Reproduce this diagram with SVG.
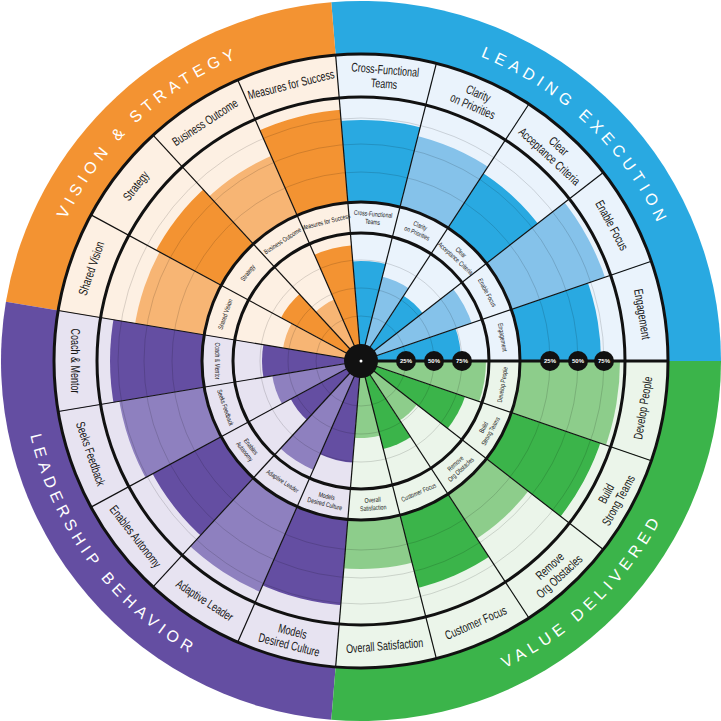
<svg xmlns="http://www.w3.org/2000/svg" width="721" height="721" viewBox="0 0 721 721">
<style>
.lb{fill:#eaf3fc}.db{fill:#29a9e1}.mb{fill:#85c2ea}
.lo{fill:#fdf0e3}.do{fill:#f39332}.mo{fill:#f7b574}
.lp{fill:#e7e3f1}.dp{fill:#644ea2}.mp{fill:#8e80bf}
.lg{fill:#ebf5ea}.dg{fill:#3bb44a}.mg{fill:#8dcd8b}
text{font-family:"Liberation Sans",Arial,sans-serif;text-anchor:middle;dominant-baseline:central;fill:#151515}
.t{font-size:12.5px}
.s{font-size:6.8px}
.ti{font-size:16px;fill:#fff;letter-spacing:5px;dominant-baseline:auto}
.grid{fill:none;stroke:#000;stroke-opacity:.18;stroke-width:.8}
.ring{fill:none;stroke:#111;stroke-width:3}
.rad{stroke:#111;stroke-width:1.2}
.pm{fill:#111}
.pt{font-size:6px;font-weight:bold;fill:#fff}
</style>
<defs>
<clipPath id="w"><polygon points="0,0 330,-55 330,55"/></clipPath>
<path id="p1" d="M60.0,488.8 A327,327 0 0 1 509.5,69.6"/>
<path id="p2" d="M215.6,68.1 A327,327 0 0 1 660.6,491.9"/>
<path id="p3" d="M78.3,173.9 A339,339 0 0 0 457.3,686.0"/>
<path id="p4" d="M211.3,665.2 A339,339 0 0 0 671.2,224.2"/>
</defs>
<g id="quadrants">
<path d="M361,361 L721,361 A360,360 0 0 0 331.27,2.23 Z" fill="#29a9e1"/>
<path d="M361,361 L331.27,2.23 A360,360 0 0 0 5.91,301.75 Z" fill="#f39332"/>
<path d="M361,361 L5.91,301.75 A360,360 0 0 0 331.27,719.77 Z" fill="#644ea2"/>
<path d="M361,361 L331.27,719.77 A360,360 0 0 0 721,361 Z" fill="#3bb44a"/>
</g>
<g id="titles">
<text class="ti"><textPath href="#p1" startOffset="50%">VISION &amp; STRATEGY</textPath></text>
<text class="ti"><textPath href="#p2" startOffset="50%">LEADING EXECUTION</textPath></text>
<text class="ti"><textPath href="#p3" startOffset="50%">LEADERSHIP BEHAVIOR</textPath></text>
<text class="ti"><textPath href="#p4" startOffset="50%">VALUE DELIVERED</textPath></text>
</g>

<g id="engagement" transform="translate(361,361) rotate(-9.47)">
<g clip-path="url(#w)"><circle r="307" class="lb"/><circle r="240" class="db"/><circle r="159" class="lb"/><circle r="100" class="db"/></g>
<g transform="translate(285.5,0) rotate(90)"><text class="t" transform="scale(0.72,1)">Engagement</text></g>
<g transform="translate(143.5,0) rotate(90)"><text class="s" transform="scale(0.75,1)">Engagement</text></g>
</g>
<g id="enable-focus" transform="translate(361,361) rotate(-28.42)">
<g clip-path="url(#w)"><circle r="307" class="lb"/><circle r="258" class="mb"/><circle r="159" class="lb"/><circle r="117" class="mb"/></g>
<g transform="translate(285.5,0) rotate(90)"><text class="t" transform="scale(0.72,1)">Enable Focus</text></g>
<g transform="translate(143.5,0) rotate(90)"><text class="s" transform="scale(0.75,1)">Enable Focus</text></g>
</g>
<g id="clear-acceptance" transform="translate(361,361) rotate(-47.37)">
<g clip-path="url(#w)"><circle r="307" class="lb"/><circle r="224" class="db"/><circle r="159" class="lb"/><circle r="78" class="db"/></g>
<g transform="translate(285.5,0) rotate(90)"><text class="t" transform="scale(0.72,1)"><tspan x="0" y="-7">Clear</tspan><tspan x="0" y="7">Acceptance Criteria</tspan></text></g>
<g transform="translate(143.5,0) rotate(90)"><text class="s" transform="scale(0.75,1)"><tspan x="0" y="-4">Clear</tspan><tspan x="0" y="4">Acceptance Criteria</tspan></text></g>
</g>
<g id="clarity" transform="translate(361,361) rotate(-66.32)">
<g clip-path="url(#w)"><circle r="307" class="lb"/><circle r="232" class="mb"/><circle r="159" class="lb"/><circle r="87" class="mb"/></g>
<g transform="translate(285.5,0) rotate(90)"><text class="t" transform="scale(0.72,1)"><tspan x="0" y="-7">Clarity</tspan><tspan x="0" y="7">on Priorities</tspan></text></g>
<g transform="translate(143.5,0) rotate(90)"><text class="s" transform="scale(0.75,1)"><tspan x="0" y="-4">Clarity</tspan><tspan x="0" y="4">on Priorities</tspan></text></g>
</g>
<g id="cross-functional" transform="translate(361,361) rotate(-85.26)">
<g clip-path="url(#w)"><circle r="307" class="lb"/><circle r="241" class="db"/><circle r="159" class="lb"/><circle r="100" class="db"/></g>
<g transform="translate(285.5,0) rotate(90)"><text class="t" transform="scale(0.72,1)"><tspan x="0" y="-7">Cross-Functional</tspan><tspan x="0" y="7">Teams</tspan></text></g>
<g transform="translate(143.5,0) rotate(90)"><text class="s" transform="scale(0.75,1)"><tspan x="0" y="-4">Cross-Functional</tspan><tspan x="0" y="4">Teams</tspan></text></g>
</g>
<g id="measures" transform="translate(361,361) rotate(-104.21)">
<g clip-path="url(#w)"><circle r="307" class="lo"/><circle r="252" class="do"/><circle r="159" class="lo"/><circle r="116" class="do"/></g>
<g transform="translate(285.5,0) rotate(90)"><text class="t" transform="scale(0.72,1)">Measures for Success</text></g>
<g transform="translate(143.5,0) rotate(90)"><text class="s" transform="scale(0.75,1)">Measures for Success</text></g>
</g>
<g id="business-outcome" transform="translate(361,361) rotate(-123.16)">
<g clip-path="url(#w)"><circle r="307" class="lo"/><circle r="224" class="mo"/><circle r="159" class="lo"/><circle r="67" class="mo"/></g>
<g transform="translate(285.5,0) rotate(90)"><text class="t" transform="scale(0.72,1)">Business Outcome</text></g>
<g transform="translate(143.5,0) rotate(90)"><text class="s" transform="scale(0.75,1)">Business Outcome</text></g>
</g>
<g id="strategy" transform="translate(361,361) rotate(-142.11)">
<g clip-path="url(#w)"><circle r="307" class="lo"/><circle r="233" class="do"/><circle r="159" class="lo"/><circle r="91" class="do"/></g>
<g transform="translate(285.5,0) rotate(90)"><text class="t" transform="scale(0.72,1)">Strategy</text></g>
<g transform="translate(143.5,0) rotate(90)"><text class="s" transform="scale(0.75,1)">Strategy</text></g>
</g>
<g id="shared-vision" transform="translate(361,361) rotate(-161.05)">
<g clip-path="url(#w)"><circle r="307" class="lo"/><circle r="229" class="mo"/><circle r="159" class="lo"/><circle r="79" class="mo"/></g>
<g transform="translate(285.5,0) rotate(90)"><text class="t" transform="scale(0.72,1)">Shared Vision</text></g>
<g transform="translate(143.5,0) rotate(90)"><text class="s" transform="scale(0.75,1)">Shared Vision</text></g>
</g>
<g id="coach-mentor" transform="translate(361,361) rotate(-180)">
<g clip-path="url(#w)"><circle r="307" class="lp"/><circle r="251" class="dp"/><circle r="159" class="lp"/><circle r="99" class="dp"/></g>
<g transform="translate(285.5,0) rotate(-90)"><text class="t" transform="scale(0.72,1)">Coach &amp; Mentor</text></g>
<g transform="translate(143.5,0) rotate(-90)"><text class="s" transform="scale(0.75,1)">Coach &amp; Mentor</text></g>
</g>
<g id="seeks-feedback" transform="translate(361,361) rotate(-198.95)">
<g clip-path="url(#w)"><circle r="307" class="lp"/><circle r="245" class="mp"/><circle r="159" class="lp"/><circle r="90" class="mp"/></g>
<g transform="translate(285.5,0) rotate(-90)"><text class="t" transform="scale(0.72,1)">Seeks Feedback</text></g>
<g transform="translate(143.5,0) rotate(-90)"><text class="s" transform="scale(0.75,1)">Seeks Feedback</text></g>
</g>
<g id="enables-autonomy" transform="translate(361,361) rotate(-217.89)">
<g clip-path="url(#w)"><circle r="307" class="lp"/><circle r="237" class="dp"/><circle r="159" class="lp"/><circle r="80" class="dp"/></g>
<g transform="translate(285.5,0) rotate(-90)"><text class="t" transform="scale(0.72,1)">Enables Autonomy</text></g>
<g transform="translate(143.5,0) rotate(-90)"><text class="s" transform="scale(0.75,1)"><tspan x="0" y="-4">Enables</tspan><tspan x="0" y="4">Autonomy</tspan></text></g>
</g>
<g id="adaptive-leader" transform="translate(361,361) rotate(-236.84)">
<g clip-path="url(#w)"><circle r="307" class="lp"/><circle r="252" class="mp"/><circle r="159" class="lp"/><circle r="119" class="mp"/></g>
<g transform="translate(285.5,0) rotate(-90)"><text class="t" transform="scale(0.72,1)">Adaptive Leader</text></g>
<g transform="translate(143.5,0) rotate(-90)"><text class="s" transform="scale(0.75,1)">Adaptive Leader</text></g>
</g>
<g id="models-culture" transform="translate(361,361) rotate(-255.79)">
<g clip-path="url(#w)"><circle r="307" class="lp"/><circle r="245" class="dp"/><circle r="159" class="lp"/><circle r="102" class="dp"/></g>
<g transform="translate(285.5,0) rotate(-90)"><text class="t" transform="scale(0.72,1)"><tspan x="0" y="-7">Models</tspan><tspan x="0" y="7">Desired Culture</tspan></text></g>
<g transform="translate(143.5,0) rotate(-90)"><text class="s" transform="scale(0.75,1)"><tspan x="0" y="-4">Models</tspan><tspan x="0" y="4">Desired Culture</tspan></text></g>
</g>
<g id="overall-satisfaction" transform="translate(361,361) rotate(-274.74)">
<g clip-path="url(#w)"><circle r="307" class="lg"/><circle r="208" class="mg"/><circle r="159" class="lg"/><circle r="77" class="mg"/></g>
<g transform="translate(285.5,0) rotate(-90)"><text class="t" transform="scale(0.72,1)">Overall Satisfaction</text></g>
<g transform="translate(143.5,0) rotate(-90)"><text class="s" transform="scale(0.75,1)"><tspan x="0" y="-4">Overall</tspan><tspan x="0" y="4">Satisfaction</tspan></text></g>
</g>
<g id="customer-focus" transform="translate(361,361) rotate(-293.68)">
<g clip-path="url(#w)"><circle r="307" class="lg"/><circle r="234" class="dg"/><circle r="159" class="lg"/><circle r="91" class="dg"/></g>
<g transform="translate(285.5,0) rotate(-90)"><text class="t" transform="scale(0.72,1)">Customer Focus</text></g>
<g transform="translate(143.5,0) rotate(-90)"><text class="s" transform="scale(0.75,1)">Customer Focus</text></g>
</g>
<g id="remove-obstacles" transform="translate(361,361) rotate(-312.63)">
<g clip-path="url(#w)"><circle r="307" class="lg"/><circle r="212" class="mg"/><circle r="159" class="lg"/><circle r="71" class="mg"/></g>
<g transform="translate(285.5,0) rotate(-90)"><text class="t" transform="scale(0.72,1)"><tspan x="0" y="-7">Remove</tspan><tspan x="0" y="7">Org Obstacles</tspan></text></g>
<g transform="translate(143.5,0) rotate(-90)"><text class="s" transform="scale(0.75,1)"><tspan x="0" y="-4">Remove</tspan><tspan x="0" y="4">Org Obstacles</tspan></text></g>
</g>
<g id="build-teams" transform="translate(361,361) rotate(-331.58)">
<g clip-path="url(#w)"><circle r="307" class="lg"/><circle r="253" class="dg"/><circle r="159" class="lg"/><circle r="110" class="dg"/></g>
<g transform="translate(285.5,0) rotate(-90)"><text class="t" transform="scale(0.72,1)"><tspan x="0" y="-7">Build</tspan><tspan x="0" y="7">Strong Teams</tspan></text></g>
<g transform="translate(143.5,0) rotate(-90)"><text class="s" transform="scale(0.75,1)"><tspan x="0" y="-4">Build</tspan><tspan x="0" y="4">Strong Teams</tspan></text></g>
</g>
<g id="develop-people" transform="translate(361,361) rotate(-350.53)">
<g clip-path="url(#w)"><circle r="307" class="lg"/><circle r="259" class="mg"/><circle r="159" class="lg"/><circle r="125" class="mg"/></g>
<g transform="translate(285.5,0) rotate(-90)"><text class="t" transform="scale(0.72,1)">Develop People</text></g>
<g transform="translate(143.5,0) rotate(-90)"><text class="s" transform="scale(0.75,1)">Develop People</text></g>
</g>

<g id="grid" transform="translate(361,361)">
<circle r="45" class="grid"/><circle r="73" class="grid"/><circle r="101" class="grid"/>
<circle r="189" class="grid"/><circle r="217" class="grid"/><circle r="243" class="grid"/>
</g>
<g id="connectors" transform="translate(361,361)">
<line x1="0" y1="0" x2="307" y2="0" stroke="#111" stroke-width="3"/>
<line x2="307" class="rad" transform="rotate(-18.95)"/>
<line x2="307" class="rad" transform="rotate(-37.89)"/>
<line x2="307" class="rad" transform="rotate(-56.84)"/>
<line x2="307" class="rad" transform="rotate(-75.79)"/>
<line x2="307" class="rad" transform="rotate(-94.74)"/>
<line x2="307" class="rad" transform="rotate(-113.68)"/>
<line x2="307" class="rad" transform="rotate(-132.63)"/>
<line x2="307" class="rad" transform="rotate(-151.58)"/>
<line x2="307" class="rad" transform="rotate(-170.53)"/>
<line x2="307" class="rad" transform="rotate(-189.47)"/>
<line x2="307" class="rad" transform="rotate(-208.42)"/>
<line x2="307" class="rad" transform="rotate(-227.37)"/>
<line x2="307" class="rad" transform="rotate(-246.32)"/>
<line x2="307" class="rad" transform="rotate(-265.26)"/>
<line x2="307" class="rad" transform="rotate(-284.21)"/>
<line x2="307" class="rad" transform="rotate(-303.16)"/>
<line x2="307" class="rad" transform="rotate(-322.11)"/>
<line x2="307" class="rad" transform="rotate(-341.05)"/>
<circle r="128" class="ring"/><circle r="159" class="ring"/><circle r="264" class="ring"/><circle r="307" class="ring"/>
</g>
<g id="center">
<circle cx="361" cy="361" r="17" fill="#111"/><circle cx="361" cy="361" r="1.5" fill="#fff"/>
</g>
<g id="markers">
<circle cx="406" cy="361" r="10" class="pm"/><text x="406" y="361" class="pt">25%</text>
<circle cx="434" cy="361" r="10" class="pm"/><text x="434" y="361" class="pt">50%</text>
<circle cx="462" cy="361" r="10" class="pm"/><text x="462" y="361" class="pt">75%</text>
<circle cx="550" cy="361" r="10" class="pm"/><text x="550" y="361" class="pt">25%</text>
<circle cx="578" cy="361" r="10" class="pm"/><text x="578" y="361" class="pt">50%</text>
<circle cx="604" cy="361" r="10" class="pm"/><text x="604" y="361" class="pt">75%</text>
</g>
</svg>
